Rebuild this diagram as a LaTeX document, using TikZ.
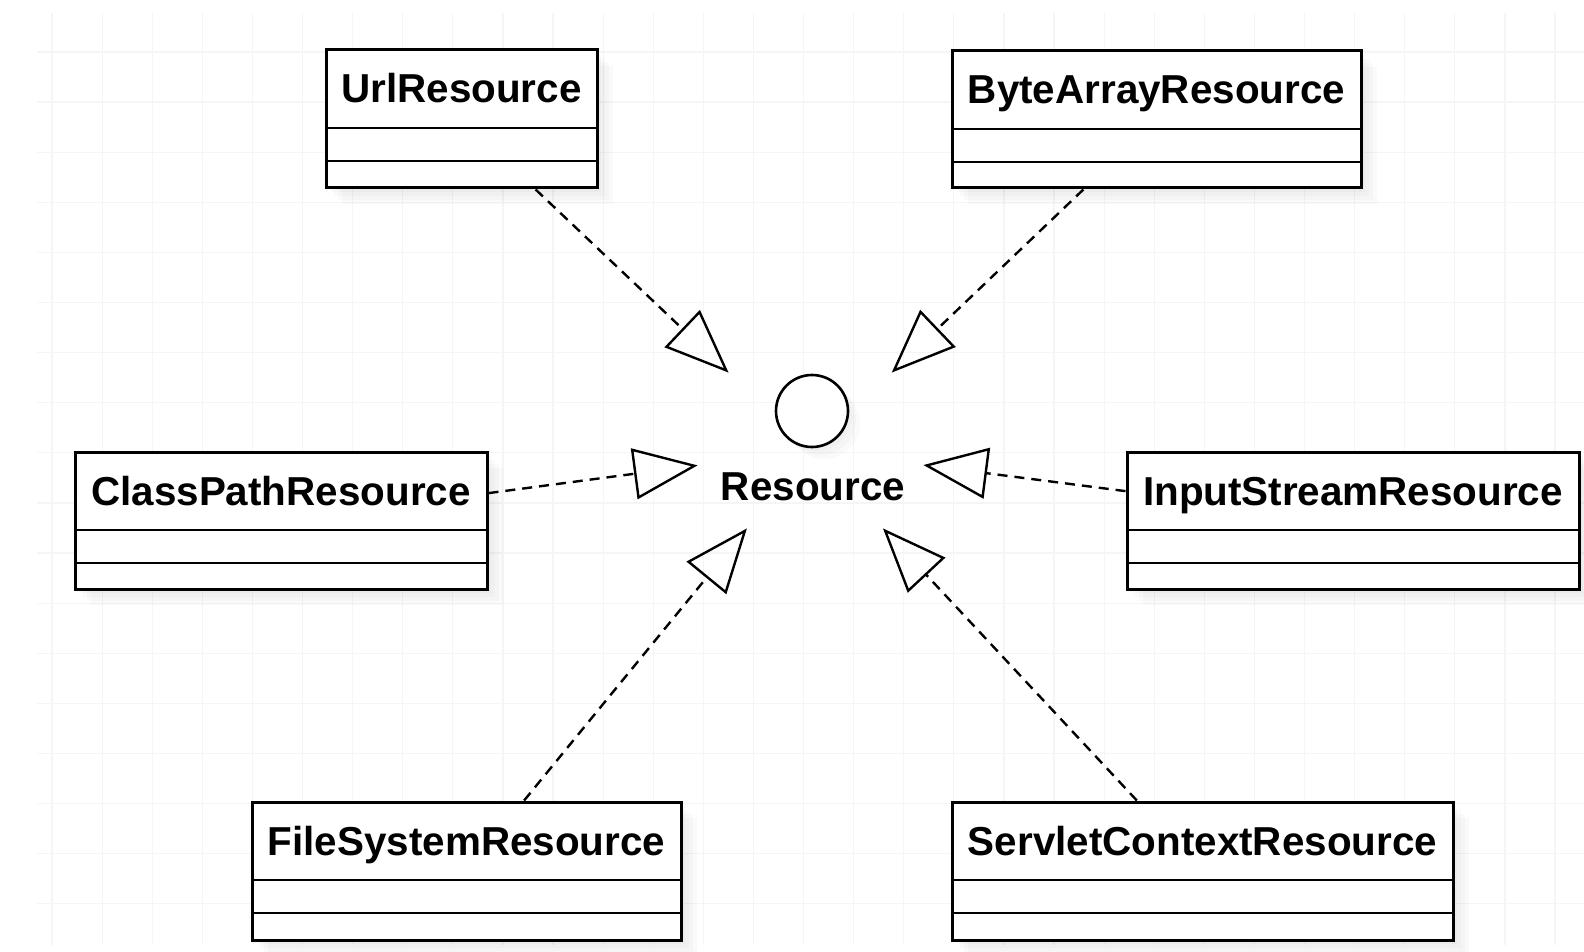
\documentclass[tikz,border=0pt]{standalone}
\usepackage{fontspec}
\setmainfont{Liberation Sans}
\usetikzlibrary{arrows.meta,fit}
\tikzset{
  clsbox/.style={draw=black, line width=1.5pt, fill=white, inner sep=0pt},
  clsline/.style={draw=black, line width=1.2pt},
  clstext/.style={font=\fontsize{20.2}{24}\selectfont\bfseries, anchor=base, inner sep=0pt},
  realize/.style={draw=black, line width=1.2pt, dash pattern=on 5pt off 3.5pt,
    -{Triangle[open, length=32pt, width=25.5pt, line width=1.2pt]}},
  hubbox/.style={draw=none, minimum width=112.5pt, minimum height=77.5pt, inner sep=0pt},
  gridline/.style={draw=black!4, line width=0.6pt},
  softshadow/.style={fill=black, fill opacity=0.02, draw=none},
}
\newcommand\umlclass[6]{%
  \foreach \k in {4,8,12,16}{\fill[softshadow] (#2+\k,#3+\k) rectangle (#4+\k,#5+\k);}
  \node[clsbox, fit={(#2,#3)(#4,#5)}] (#1) {};
  \draw[clsline] (#2,#3+78) -- (#4,#3+78);
  \draw[clsline] (#2,#3+111) -- (#4,#3+111);
  \node[clstext] at ({(#2+#4)/2},#3+53) {#6};
}
\begin{document}
\begin{tikzpicture}[x=0.5pt,y=-0.5pt]
\useasboundingbox[fill=white] (0,0) rectangle (1584,952);
% grid
\foreach \i in {0,...,30}{\draw[gridline] ({52+50.1*\i},13) -- ({52+50.1*\i},945);}
\foreach \j in {0,...,17}{\draw[gridline] (37,{52+50.1*\j}) -- (1584,{52+50.1*\j});}
% classes
\umlclass{url}{326}{50}{597}{188}{UrlResource}
\umlclass{byte}{952}{51}{1361}{188}{ByteArrayResource}
\umlclass{cp}{75}{452}{487}{589}{ClassPathResource}
\umlclass{ins}{1127}{452}{1579}{589}{InputStreamResource}
\umlclass{fs}{252}{802}{681}{940}{FileSystemResource}
\umlclass{sc}{952}{802}{1453}{940}{ServletContextResource}
% interface
\node[hubbox] (hub) at (810.5,450.5) {};
\foreach \k in {4,8,12}{\fill[softshadow] (812+\k,411+\k) circle[radius=18pt];}
\node[circle, draw=black, line width=1.3pt, fill=white, minimum size=36pt, inner sep=0pt] (ifc) at (812,411) {};
\node[clstext] (reslbl) at (813,500.5) {Resource};
% realizations
\draw[realize] (url) -- (hub);
\draw[realize] (byte) -- (hub);
\draw[realize] (cp) -- (hub);
\draw[realize] (ins) -- (hub);
\draw[realize] (fs) -- (hub);
\draw[realize] (sc) -- (hub);
\end{tikzpicture}
\end{document}
